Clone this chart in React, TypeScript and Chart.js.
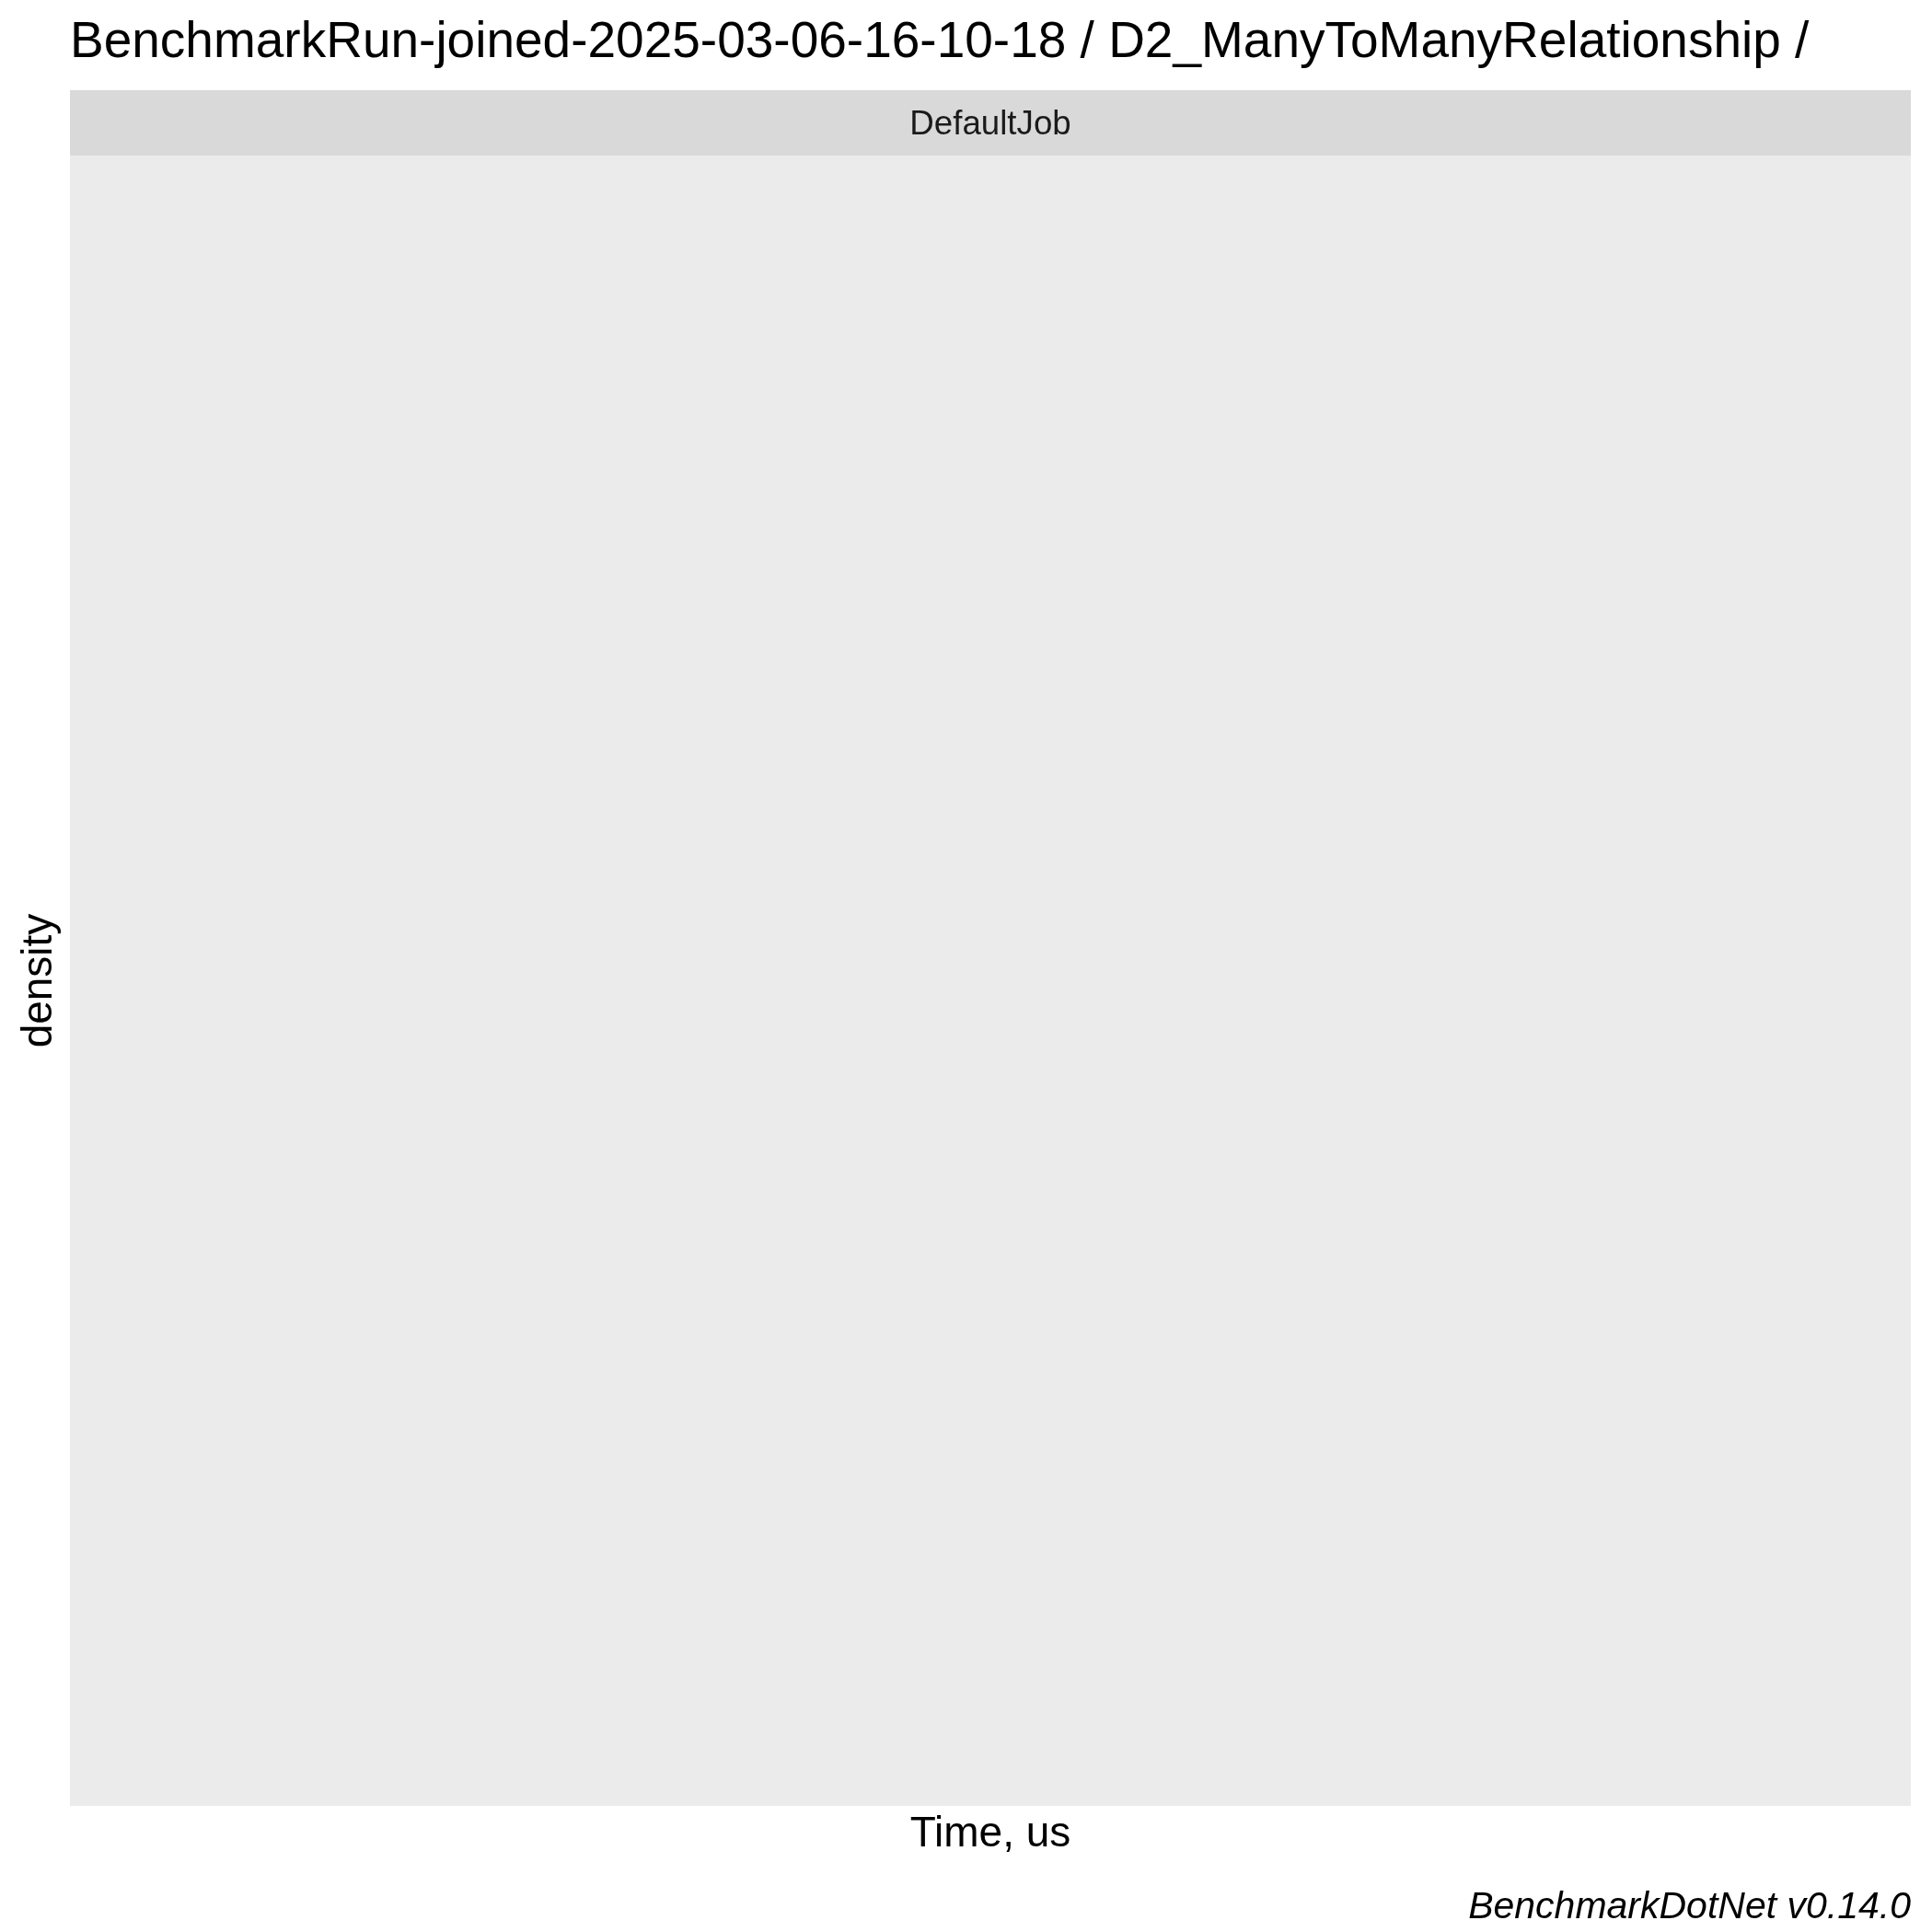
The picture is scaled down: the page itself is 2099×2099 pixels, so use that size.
import React, { useEffect, useRef } from "react";
import { Chart, registerables } from "chart.js";

Chart.register(...registerables);

// Data (the reference panel is empty: no measurements were plotted)
const timeUs: number[] = [];
const densityValues: number[] = [];
const facetLabels: string[] = ["DefaultJob"];

const titleText = "BenchmarkRun-joined-2025-03-06-16-10-18 / D2_ManyToManyRelationship /";
const captionText = "BenchmarkDotNet v0.14.0";
const xTitle = "Time, us";
const yTitle = "density";

const FONT = "'Liberation Sans', Arial, Helvetica, sans-serif";

const panelPlugin = {
  id: "ggPanel",
  beforeDraw(chart: any) {
    const { ctx, chartArea, width, height } = chart;
    ctx.save();
    ctx.fillStyle = "#FFFFFF";
    ctx.fillRect(0, 0, width, height);
    // panel background
    ctx.fillStyle = "#EBEBEB";
    ctx.fillRect(chartArea.left, chartArea.top, chartArea.right - chartArea.left, chartArea.bottom - chartArea.top);
    // facet strip
    const stripH = 71;
    ctx.fillStyle = "#D9D9D9";
    ctx.fillRect(chartArea.left, chartArea.top - stripH, chartArea.right - chartArea.left, stripH);
    ctx.fillStyle = "#1A1A1A";
    ctx.font = `36.7px ${FONT}`;
    ctx.textAlign = "center";
    ctx.textBaseline = "middle";
    ctx.fillText(facetLabels[0], (chartArea.left + chartArea.right) / 2, chartArea.top - stripH / 2 + 2.5);
    ctx.restore();
  },
};

export default function App() {
  const ref = useRef<HTMLCanvasElement | null>(null);

  useEffect(() => {
    if (!ref.current) return;
    const points = timeUs.map((x, i) => ({ x, y: densityValues[i] }));
    const chart = new Chart(ref.current, {
      type: "line",
      data: {
        datasets: [
          {
            label: facetLabels[0],
            data: points,
            borderColor: "#000000",
            backgroundColor: "rgba(0,0,0,0)",
            pointRadius: 0,
          },
        ],
      },
      options: {
        responsive: false,
        animation: false,
        layout: { padding: { left: 0, right: 23, top: 0, bottom: 0 } },
        plugins: {
          legend: { display: false },
          tooltip: { enabled: false },
          title: {
            display: true,
            text: titleText,
            align: "start",
            fullSize: false,
            color: "#000000",
            font: { family: FONT, size: 55, weight: "normal", lineHeight: 1.2 },
            padding: { top: 14, bottom: 89 },
          },
          subtitle: {
            display: true,
            text: captionText,
            position: "bottom",
            align: "end",
            fullSize: false,
            color: "#000000",
            font: { family: FONT, size: 41, style: "italic", weight: "normal", lineHeight: 1.2 },
            padding: { top: 0, bottom: 1.4 },
          },
        },
        scales: {
          x: {
            type: "linear",
            position: "bottom",
            grid: { display: false },
            border: { display: false },
            ticks: { display: false },
            title: {
              display: true,
              text: xTitle,
              color: "#000000",
              font: { family: FONT, size: 46, lineHeight: 1.2 },
              padding: { top: 0, bottom: 27.8 },
            },
            afterFit: (scale: any) => {
              scale.height = 86.4;
            },
          },
          y: {
            type: "linear",
            position: "left",
            grid: { display: false },
            border: { display: false },
            ticks: { display: false },
            title: {
              display: true,
              text: yTitle,
              color: "#000000",
              font: { family: FONT, size: 46, lineHeight: 1.2 },
              padding: { top: 15.4, bottom: 0 },
            },
            afterFit: (scale: any) => {
              scale.width = 76;
            },
          },
        },
      } as any,
      plugins: [panelPlugin],
    });
    return () => chart.destroy();
  }, []);

  return (
    <div style={{ position: "absolute", left: 0, top: 0, width: 2099, height: 2099 }}>
      <canvas ref={ref} width={2099} height={2099} style={{ width: 2099, height: 2099, display: "block" }} />
    </div>
  );
}
